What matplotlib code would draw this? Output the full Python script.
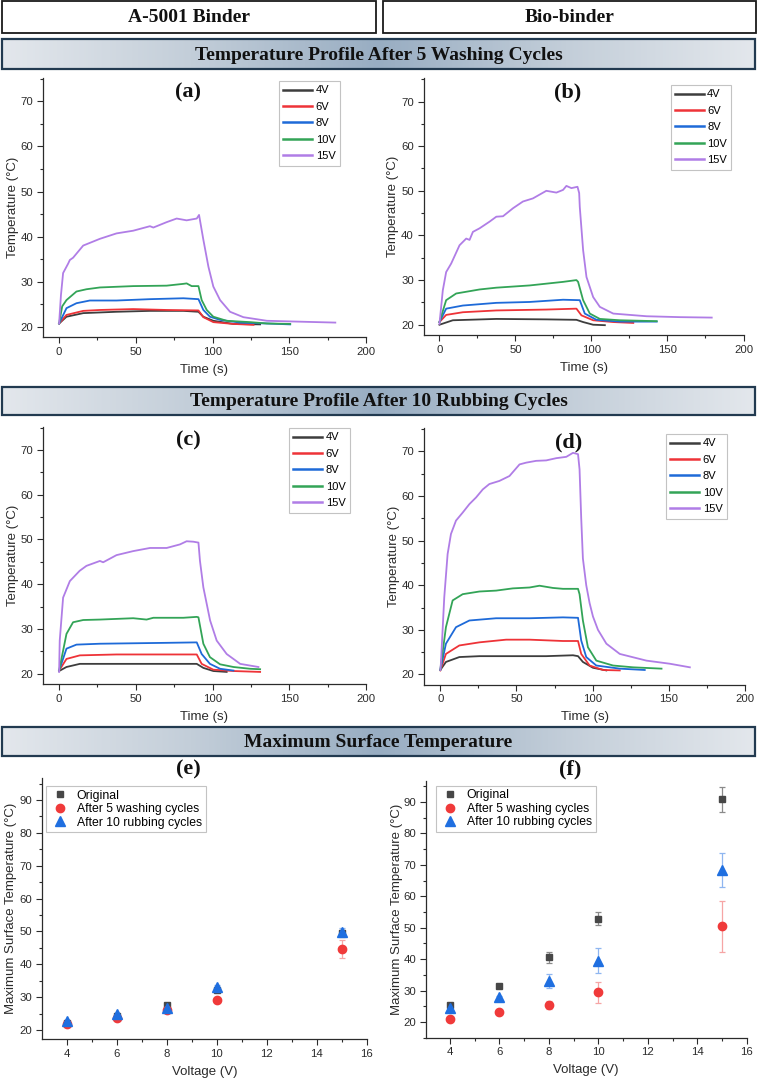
import numpy as np
import matplotlib
matplotlib.use("Agg")
import matplotlib.pyplot as plt
from matplotlib.patches import Rectangle
from matplotlib.colors import LinearSegmentedColormap
from matplotlib.ticker import MultipleLocator

plt.rcParams['font.family'] = ['Liberation Sans', 'DejaVu Sans']

# ---------------- data ----------------
voltages_lbl = ["4V", "6V", "8V", "10V", "15V"]

# Panel (a): A-5001 binder, after 5 washing cycles
t_a_4V = [0, 4.8, 15.7, 37.4, 59.2, 81.0, 90.8, 94.0, 100.5, 113.6, 131.0]
T_a_4V = [20.7, 22.2, 23.0, 23.3, 23.5, 23.5, 23.3, 22.2, 21.3, 20.6, 20.5]
t_a_6V = [0, 4.8, 15.7, 26.6, 48.3, 70.1, 90.8, 94.0, 100.5, 113.6, 126.7]
T_a_6V = [20.7, 22.6, 23.5, 23.7, 23.9, 23.7, 23.6, 22.1, 21.0, 20.6, 20.4]
t_a_8V = [0, 4.8, 11.3, 20.0, 37.4, 59.2, 81.0, 90.8, 94.0, 98.3, 104.9, 118.0, 135.4, 150.6]
T_a_8V = [20.7, 24.1, 25.2, 25.8, 25.8, 26.1, 26.3, 26.1, 23.7, 22.2, 21.5, 20.9, 20.7, 20.5]
t_a_10V = [0, 2.0, 4.8, 11.3, 17.8, 26.6, 48.3, 70.1, 81.0, 83.1, 86.4, 90.8, 92.9, 96.2, 100.5, 109.2, 124.5, 135.4, 150.6]
T_a_10V = [20.7, 24.5, 25.9, 27.8, 28.3, 28.7, 29.0, 29.1, 29.5, 29.6, 29.0, 29.0, 25.9, 23.7, 22.2, 21.3, 21.0, 20.7, 20.6]
t_a_15V = [0, 1.2, 2.6, 5.9, 7.0, 9.1, 15.7, 26.6, 37.4, 48.3, 59.2, 61.4, 70.1, 76.6, 83.1, 89.7, 91.2, 94.0, 97.3, 100.5, 104.9, 111.4, 120.1, 135.4, 157.1, 180.0]
T_a_15V = [20.7, 27.0, 31.9, 34.0, 34.8, 35.3, 38.0, 39.5, 40.7, 41.3, 42.3, 42.0, 43.2, 44.0, 43.6, 44.0, 44.8, 39.3, 33.3, 28.9, 25.9, 23.3, 22.1, 21.3, 21.1, 20.9]

# Panel (b): bio-binder, after 5 washing cycles
t_b_4V = [0, 8.8, 37.4, 70.3, 90.1, 94.5, 101.1, 108.8]
T_b_4V = [20.0, 21.0, 21.3, 21.2, 21.1, 20.6, 20.0, 19.9]
t_b_6V = [0, 4.4, 15.4, 37.4, 70.3, 90.1, 93.4, 101.1, 114.3, 127.5]
T_b_6V = [20.6, 22.2, 22.8, 23.2, 23.4, 23.6, 22.1, 21.0, 20.6, 20.4]
t_b_8V = [0, 4.4, 15.4, 37.4, 59.3, 81.3, 92.3, 95.6, 103.3, 118.7, 142.9]
T_b_8V = [20.6, 23.6, 24.3, 24.9, 25.1, 25.6, 25.5, 22.5, 21.1, 20.7, 20.7]
t_b_10V = [0, 4.4, 11.0, 26.4, 37.4, 59.3, 81.3, 90.1, 91.2, 94.5, 98.9, 105.5, 118.7, 142.9]
T_b_10V = [20.6, 25.5, 27.0, 27.9, 28.3, 28.8, 29.6, 30.0, 29.6, 25.5, 22.5, 21.3, 21.0, 20.8]
t_b_15V = [0, 2.2, 4.4, 7.7, 13.2, 17.6, 19.8, 22.0, 26.4, 33.0, 37.4, 41.8, 48.4, 54.9, 61.5, 70.3, 76.9, 81.3, 83.5, 86.8, 90.8, 91.9, 92.3, 94.5, 96.7, 101.1, 105.5, 114.3, 136.3, 158.2, 179.1]
T_b_15V = [20.2, 27.7, 31.8, 33.7, 37.8, 39.3, 39.0, 40.8, 41.6, 43.1, 44.2, 44.3, 46.1, 47.6, 48.3, 50.0, 49.6, 50.2, 51.1, 50.6, 50.9, 49.5, 46.4, 36.7, 30.7, 26.2, 24.0, 22.5, 21.9, 21.7, 21.6]

# Panel (c): A-5001 binder, after 10 rubbing cycles
t_c_4V = [0, 4.8, 13.5, 48.3, 89.7, 94.0, 100.5, 109.2]
T_c_4V = [20.6, 21.5, 22.2, 22.2, 22.2, 21.3, 20.6, 20.4]
t_c_6V = [0, 4.8, 13.5, 37.4, 59.2, 89.7, 92.9, 100.5, 113.6, 131.0]
T_c_6V = [20.7, 23.3, 24.1, 24.3, 24.3, 24.3, 22.2, 20.9, 20.6, 20.4]
t_c_8V = [0, 4.8, 11.3, 26.6, 48.3, 70.1, 89.7, 92.9, 98.3, 104.9, 113.6]
T_c_8V = [20.7, 25.6, 26.5, 26.7, 26.8, 26.9, 27.0, 24.4, 22.2, 21.1, 20.7]
t_c_10V = [0, 4.8, 9.1, 15.7, 26.6, 48.3, 57.0, 61.4, 81.0, 89.7, 90.8, 94.0, 98.3, 104.9, 113.6, 124.5, 131.0]
T_c_10V = [20.7, 28.9, 31.5, 32.0, 32.1, 32.4, 32.1, 32.5, 32.5, 32.7, 32.6, 26.7, 23.7, 22.1, 21.5, 21.1, 21.0]
t_c_15V = [0, 0.4, 2.6, 7.0, 13.4, 17.8, 26.6, 28.7, 37.4, 48.3, 59.2, 70.1, 78.8, 83.1, 87.5, 90.8, 91.8, 94.0, 98.4, 102.7, 109.2, 118.0, 129.9]
T_c_15V = [20.4, 27.4, 37.0, 40.7, 43.0, 44.1, 45.2, 44.9, 46.5, 47.4, 48.1, 48.1, 48.9, 49.6, 49.5, 49.3, 45.2, 39.3, 31.9, 27.4, 24.4, 22.2, 21.5]

# Panel (d): bio-binder, after 10 rubbing cycles
t_d_4V = [0, 3.7, 12.5, 25.7, 47.6, 69.5, 87.1, 90.4, 93.6, 100.2, 109.0]
T_d_4V = [21.0, 22.8, 23.9, 24.1, 24.1, 24.1, 24.3, 24.1, 22.8, 21.5, 20.9]
t_d_6V = [0, 3.7, 12.5, 25.7, 43.2, 58.6, 80.5, 90.4, 92.5, 98.0, 106.8, 117.8]
T_d_6V = [20.9, 24.6, 26.5, 27.2, 27.8, 27.8, 27.5, 27.5, 24.6, 22.0, 21.0, 20.9]
t_d_8V = [0, 0.4, 3.7, 10.3, 19.1, 36.6, 58.6, 80.5, 90.4, 92.5, 95.8, 102.4, 117.8, 134.2]
T_d_8V = [21.0, 21.6, 26.9, 30.6, 32.1, 32.6, 32.6, 32.8, 32.7, 27.6, 23.9, 22.0, 21.3, 21.0]
t_d_10V = [0, 3.7, 8.1, 14.7, 25.7, 36.6, 47.6, 58.6, 65.1, 73.9, 80.5, 90.4, 91.4, 93.6, 96.9, 102.4, 113.4, 126.5, 145.2]
T_d_10V = [21.0, 30.6, 36.6, 38.0, 38.6, 38.8, 39.3, 39.5, 39.9, 39.4, 39.2, 39.2, 38.0, 32.1, 26.1, 23.1, 22.0, 21.6, 21.3]
t_d_15V = [0, 0.4, 2.6, 4.8, 7.0, 10.3, 14.7, 19.1, 23.5, 27.9, 32.2, 38.8, 45.4, 52.0, 56.4, 62.9, 69.5, 76.1, 82.7, 87.1, 90.4, 91.4, 92.5, 93.6, 95.8, 98.0, 100.2, 103.5, 109.0, 117.8, 135.3, 150.7, 163.8]
T_d_15V = [21.0, 22.4, 37.3, 47.0, 51.5, 54.5, 56.3, 58.2, 59.7, 61.5, 62.7, 63.4, 64.5, 67.1, 67.5, 67.9, 68.0, 68.5, 68.8, 69.7, 69.4, 66.0, 55.0, 46.0, 40.0, 36.0, 33.0, 30.0, 26.9, 24.6, 23.1, 22.4, 21.6]

# Panels (e), (f): maximum surface temperature vs voltage
volt = [4, 6, 8, 10, 15]
series_lbl = ["Original", "After 5 washing cycles", "After 10 rubbing cycles"]
e_orig = [22.3, 24.3, 27.6, 32.2, 49.4]
e_orig_err = [0.3, 0.4, 0.5, 0.6, 1.0]
e_wash = [22.0, 23.6, 26.1, 29.1, 44.6]
e_wash_err = [0.3, 0.3, 0.5, 0.6, 2.7]
e_rub = [22.7, 24.8, 26.8, 33.0, 49.9]
e_rub_err = [0.3, 0.4, 0.5, 0.7, 1.2]
f_orig = [25.4, 31.5, 40.6, 52.9, 90.9]
f_orig_err = [0.5, 0.5, 1.8, 2.0, 4.0]
f_wash = [21.1, 23.2, 25.5, 29.4, 50.4]
f_wash_err = [0.3, 0.4, 1.3, 3.2, 8.2]
f_rub = [24.3, 27.8, 33.0, 39.5, 68.4]
f_rub_err = [0.3, 0.5, 2.3, 4.0, 5.4]

# ---------------- styling ----------------
W, H = 757, 1079
line_colors = ['#3d3d3d', '#ee3338', '#1e6ad8', '#33a457', '#b07de6']
ink = '#2b2b2b'

fig = plt.figure(figsize=(W / 100, H / 100), dpi=100)


def px_axes(l, t, r, b, **kw):
    return fig.add_axes([l / W, 1 - b / H, (r - l) / W, (b - t) / H], **kw)


# decoration overlay (pixel coordinates)
ov = fig.add_axes([0, 0, 1, 1], zorder=0)
ov.set_axis_off()
serif_bold = dict(family=['Liberation Serif', 'DejaVu Serif'], weight='bold')

for (x0, x1, label) in [(1.5, 376, "A-5001 Binder"), (383, 755.5, "Bio-binder")]:
    ov.add_patch(Rectangle((x0, 1), x1 - x0, 32, fill=False, ec='#1a1a1a', lw=1.3))
    ov.text((x0 + x1) / 2, 17.5, label, ha='center', va='center', fontsize=14, color='#111', **serif_bold)

grad_cmap = LinearSegmentedColormap.from_list('bar', ['#e3e7ec', '#c3ced9', '#98adc2', '#c3ced9', '#e3e7ec'])
grad = np.linspace(0, 1, 400).reshape(1, -1)
for (y0, y1, label) in [(39, 69, "Temperature Profile After 5 Washing Cycles"),
                        (387, 415, "Temperature Profile After 10 Rubbing Cycles"),
                        (727, 756, "Maximum Surface Temperature")]:
    ov.imshow(grad, extent=(2, 755, y1, y0), aspect='auto', cmap=grad_cmap, interpolation='bilinear')
    ov.add_patch(Rectangle((2, y0), 753, y1 - y0, fill=False, ec='#223a50', lw=1.6))
    ov.text(378.5, (y0 + y1) / 2 + 1, label, ha='center', va='center', fontsize=14, color='#111', **serif_bold)
ov.set_xlim(0, W)
ov.set_ylim(H, 0)


def style_axes(ax):
    for s in ['top', 'right']:
        ax.spines[s].set_visible(False)
    for s in ['left', 'bottom']:
        ax.spines[s].set_color(ink)
        ax.spines[s].set_linewidth(0.9)
    ax.tick_params(which='both', direction='out', colors=ink, labelsize=8.2, width=0.8, pad=3)
    ax.tick_params(which='major', length=4)
    ax.tick_params(which='minor', length=2.5)
    ax.set_facecolor('none')


def time_panel(box, series_t, series_T, tag, leg_xy, ylab_x):
    ax = px_axes(*box)
    style_axes(ax)
    handles = []
    for t, T, c, lbl in zip(series_t, series_T, line_colors, voltages_lbl):
        h, = ax.plot(t, T, color=c, lw=1.3, label=lbl)
        handles.append(h)
    ax.set_xlim(-10.5, 200)
    ax.set_ylim(17.7, 75.2)
    ax.xaxis.set_major_locator(MultipleLocator(50))
    ax.xaxis.set_minor_locator(MultipleLocator(25))
    ax.yaxis.set_major_locator(MultipleLocator(10))
    ax.yaxis.set_minor_locator(MultipleLocator(5))
    ax.set_yticks([20, 30, 40, 50, 60, 70])
    ax.set_xlabel("Time (s)", fontsize=9.5, color=ink, labelpad=5)
    ax.set_ylabel("Temperature (°C)", fontsize=9.5, color=ink)
    ax.yaxis.set_label_coords(ylab_x, 0.5)
    fig.text(((box[0] + box[2]) / 2 - 16) / W, 1 - (box[1] + 14) / H, tag, ha='center', va='center',
             fontsize=16, color='#111', **serif_bold)
    leg = ax.legend(handles=handles, loc='upper left', bbox_to_anchor=(leg_xy[0] / W, 1 - leg_xy[1] / H),
                    bbox_transform=fig.transFigure, fontsize=8.0, frameon=True, fancybox=False,
                    handlelength=2.6, handletextpad=0.3, labelspacing=0.58, borderpad=0.4,
                    borderaxespad=0)
    leg.get_frame().set_edgecolor('#b5b5b5')
    leg.get_frame().set_linewidth(0.8)
    for lh in leg.get_lines():
        lh.set_linewidth(1.8)
    return ax


time_panel((43, 78, 366, 337), [t_a_4V, t_a_6V, t_a_8V, t_a_10V, t_a_15V],
           [T_a_4V, T_a_6V, T_a_8V, T_a_10V, T_a_15V], "(a)", (279, 81), -0.074)
time_panel((423.5, 78.3, 743.5, 335), [t_b_4V, t_b_6V, t_b_8V, t_b_10V, t_b_15V],
           [T_b_4V, T_b_6V, T_b_8V, T_b_10V, T_b_15V], "(b)", (670.5, 85), -0.077)
time_panel((43, 426.7, 366, 684), [t_c_4V, t_c_6V, t_c_8V, t_c_10V, t_c_15V],
           [T_c_4V, T_c_6V, T_c_8V, T_c_10V, T_c_15V], "(c)", (289, 428), -0.074)
time_panel((424.3, 428.3, 745, 684.7), [t_d_4V, t_d_6V, t_d_8V, t_d_10V, t_d_15V],
           [T_d_4V, T_d_6V, T_d_8V, T_d_10V, T_d_15V], "(d)", (666, 434), -0.077)

mk_colors = ['#474747', '#f03a3a', '#1f6fe0']
err_colors = ['#8a8a8a', '#f6a5a5', '#8fb6f0']
markers = ['s', 'o', '^']
msizes = [5, 6, 6.5]


def max_panel(box, vals, errs, tag, leg_xy, ylim, ylab_x):
    ax = px_axes(*box)
    style_axes(ax)
    hs = []
    for v, e, mc, ec, m, ms, lbl in zip(vals, errs, mk_colors, err_colors, markers, msizes, series_lbl):
        ax.errorbar(volt, v, yerr=e, fmt='none', ecolor=ec, elinewidth=0.9, capsize=2.5, capthick=0.9, zorder=2)
        h, = ax.plot(volt, v, ls='none', marker=m, ms=ms, color=mc, mec=mc, label=lbl, zorder=3)
        hs.append(h)
    ax.set_xlim(3.02, 16)
    ax.set_ylim(*ylim)
    ax.xaxis.set_major_locator(MultipleLocator(2))
    ax.xaxis.set_minor_locator(MultipleLocator(1))
    ax.set_xticks([4, 6, 8, 10, 12, 14, 16])
    ax.set_yticks([20, 30, 40, 50, 60, 70, 80, 90])
    ax.yaxis.set_minor_locator(MultipleLocator(5))
    ax.set_xlabel("Voltage (V)", fontsize=9.5, color=ink, labelpad=5)
    ax.set_ylabel("Maximum Surface Temperature (°C)", fontsize=9.5, color=ink)
    ax.yaxis.set_label_coords(ylab_x, 0.5)
    fig.text(((box[0] + box[2]) / 2 - 16) / W, 1 - 769 / H, tag, ha='center', va='center',
             fontsize=16, color='#111', **serif_bold)
    leg = ax.legend(handles=hs, loc='upper left', bbox_to_anchor=(leg_xy[0] / W, 1 - leg_xy[1] / H),
                    bbox_transform=fig.transFigure, fontsize=8.8, frameon=True, fancybox=False,
                    handlelength=1.7, handletextpad=0.55, labelspacing=0.12, borderpad=0.3,
                    borderaxespad=0, numpoints=1)
    leg.get_frame().set_edgecolor('#b5b5b5')
    leg.get_frame().set_linewidth(0.8)
    return ax


max_panel((42.3, 778.3, 366.7, 1039.3), [e_orig, e_wash, e_rub], [e_orig_err, e_wash_err, e_rub_err],
          "(e)", (45.7, 786), (17.2, 96.6), -0.077)
max_panel((425.7, 780.7, 746.7, 1037.7), [f_orig, f_wash, f_rub], [f_orig_err, f_wash_err, f_rub_err],
          "(f)", (435.7, 785.7), (15.0, 96.8), -0.072)

fig.savefig("out.png", dpi=100, facecolor='white')
